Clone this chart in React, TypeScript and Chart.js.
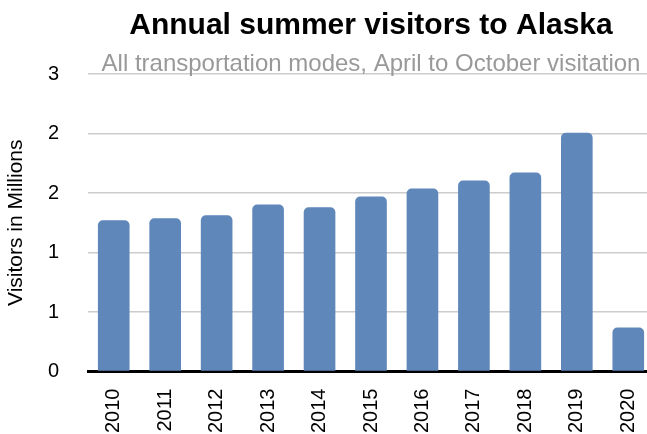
import React, { useEffect, useRef } from "react";
import { Chart, registerables } from "chart.js";

Chart.register(...registerables);

const years = ["2010", "2011", "2012", "2013", "2014", "2015", "2016", "2017", "2018", "2019", "2020"];
const visitors = [1.271, 1.288, 1.313, 1.403, 1.38, 1.471, 1.538, 1.605, 1.673, 2.006, 0.37];
const yTickLabels = ["0", "1", "1", "2", "2", "3"];

const titleText = "Annual summer visitors to Alaska";
const subtitleText = "All transportation modes, April to October visitation";
const yTitle = "Visitors in Millions";

const FONT = "'Liberation Sans', Arial, Helvetica, sans-serif";

export default function App() {
  const ref = useRef<HTMLCanvasElement | null>(null);

  useEffect(() => {
    if (!ref.current) return;
    const chart = new Chart(ref.current, {
      type: "bar",
      data: {
        labels: years,
        datasets: [
          {
            data: visitors,
            backgroundColor: "#5f87ba",
            borderRadius: { topLeft: 5, topRight: 5, bottomLeft: 0, bottomRight: 0 },
            borderSkipped: "start",
            barPercentage: 0.615,
            categoryPercentage: 1,
          },
        ],
      },
      options: {
        animation: false,
        responsive: false,
        devicePixelRatio: 1,
        layout: { padding: { left: 0, right: 2, top: 0, bottom: 0 } },
        plugins: {
          legend: { display: false },
          tooltip: { enabled: false },
          title: {
            display: true,
            text: titleText,
            fullSize: false,
            color: "#000",
            font: { family: FONT, size: 30, weight: "bold", lineHeight: 1.2 },
            padding: { top: 8, bottom: 0 },
          },
          subtitle: {
            display: true,
            text: subtitleText,
            fullSize: false,
            color: "#999999",
            font: { family: FONT, size: 24, lineHeight: 1.2 },
            padding: { top: 5.6, bottom: -4.4 },
          },
        },
        scales: {
          x: {
            afterFit: (scale: any) => {
              scale.paddingLeft = 0;
              scale.paddingRight = 0;
            },
            grid: { display: false, drawTicks: false },
            border: { display: true, color: "#000", width: 3 },
            ticks: {
              color: "#000",
              font: { family: FONT, size: 20 },
              minRotation: 90,
              maxRotation: 90,
              padding: 17,
              autoSkip: false,
            },
          },
          y: {
            min: 0,
            max: 2.5,
            afterFit: (scale: any) => {
              scale.width = 88;
            },
            grid: { color: "#cccccc", lineWidth: 1.5, drawTicks: false },
            border: { display: false },
            ticks: {
              stepSize: 0.5,
              color: "#000",
              font: { family: FONT, size: 20 },
              padding: 29,
              callback: (_v: any, i: number) => yTickLabels[i],
            },
            title: {
              display: true,
              text: yTitle,
              color: "#000",
              font: { family: FONT, size: 21, lineHeight: 1.2 },
              padding: { top: 4, bottom: 4 },
            },
          },
        },
      },
    });
    return () => chart.destroy();
  }, []);

  return (
    <div style={{ position: "fixed", left: 0, top: 0, width: 647, height: 434, overflow: "hidden", background: "#fff" }}>
      <canvas ref={ref} width={656} height={450} style={{ display: "block" }} />
    </div>
  );
}
